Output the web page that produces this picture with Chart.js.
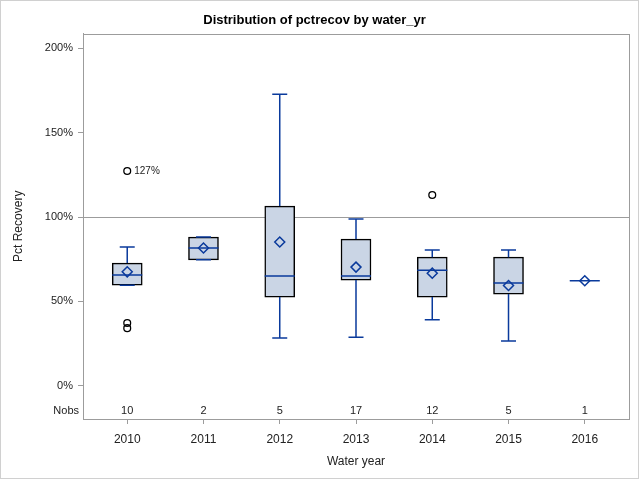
<!DOCTYPE html>
<html>
<head>
<meta charset="utf-8">
<script src="https://cdn.jsdelivr.net/npm/chart.js@4.4.1/dist/chart.umd.min.js"></script>
<style>
  html, body { margin: 0; padding: 0; background: #fff; }
  canvas { display: block; }
</style>
</head>
<body>
<canvas id="boxChart" width="640" height="480"></canvas>
<script>
const years = ['2010', '2011', '2012', '2013', '2014', '2015', '2016'];
const nobs = [10, 2, 5, 17, 12, 5, 1];
const q1Values = [59.6, 74.6, 52.5, 62.6, 52.5, 54.3, 62.2];
const q3Values = [72.7, 88.1, 106.5, 86.9, 76.2, 76.2, 62.2];
const medianValues = [65.6, 81.6, 65.0, 65.0, 68.5, 60.8, 62.2];
const meanValues = [67.5, 81.6, 85.2, 70.3, 66.7, 59.4, 62.2];
const whiskerLow = [59.6, 74.6, 28.3, 28.7, 39.0, 26.4, 62.2];
const whiskerHigh = [82.2, 88.1, 172.8, 98.8, 80.4, 80.4, 62.2];
const outlierYear = [0, 0, 0, 4];
const outlierValues = [127.3, 37.1, 34.1, 113.1];
const outlierLabels = ['127%', '', '', ''];
const yTicks = [0, 50, 100, 150, 200];
const referenceValue = 100;

const BLUE = '#0A3A9C';
const GREY = '#9C9C9C';
const FONT = '"Liberation Sans", Arial, sans-serif';

const boxDecorations = {
    id: 'boxDecorations',
    beforeDatasetsDraw(chart) {
        const { ctx, chartArea, scales: { y } } = chart;
        const py = Math.round(y.getPixelForValue(referenceValue)) + 0.5;
        ctx.save();
        ctx.strokeStyle = GREY;
        ctx.lineWidth = 1;
        ctx.beginPath();
        ctx.moveTo(chartArea.left, py);
        ctx.lineTo(chartArea.right, py);
        ctx.stroke();
        ctx.restore();
    },
    afterDatasetDraw(chart, args) {
        if (args.index !== 0) {
            return;
        }
        const { ctx, scales: { x, y } } = chart;
        ctx.save();
        ctx.strokeStyle = BLUE;
        ctx.lineWidth = 1.5;
        years.forEach((year, i) => {
            const px = x.getPixelForValue(i);
            const hi = y.getPixelForValue(whiskerHigh[i]);
            const lo = y.getPixelForValue(whiskerLow[i]);
            const top = y.getPixelForValue(q3Values[i]);
            const bottom = y.getPixelForValue(q1Values[i]);
            const med = y.getPixelForValue(medianValues[i]);
            ctx.beginPath();
            ctx.moveTo(px, hi);
            ctx.lineTo(px, top);
            ctx.moveTo(px, bottom);
            ctx.lineTo(px, lo);
            ctx.moveTo(px - 7.5, hi);
            ctx.lineTo(px + 7.5, hi);
            ctx.moveTo(px - 7.5, lo);
            ctx.lineTo(px + 7.5, lo);
            ctx.moveTo(px - 15, med);
            ctx.lineTo(px + 15, med);
            ctx.stroke();
        });
        ctx.restore();
    },
    afterDraw(chart) {
        const { ctx, chartArea, scales: { x, y } } = chart;
        ctx.save();
        ctx.strokeStyle = GREY;
        ctx.lineWidth = 1;
        ctx.strokeRect(Math.round(chartArea.left) + 0.5, Math.round(chartArea.top) + 0.5,
            Math.round(chartArea.right - chartArea.left), Math.round(chartArea.bottom - chartArea.top));

        ctx.strokeStyle = '#D0D0D0';
        ctx.strokeRect(0.5, 0.5, 638, 478);

        ctx.fillStyle = '#222';
        ctx.font = '11px ' + FONT;
        ctx.textBaseline = 'middle';
        const nobsY = chartArea.bottom - 8;
        ctx.textAlign = 'center';
        nobs.forEach((n, i) => {
            ctx.fillText(String(n), x.getPixelForValue(i), nobsY);
        });
        ctx.textAlign = 'right';
        ctx.fillText('Nobs', chartArea.left - 4, nobsY);

        ctx.font = '10px ' + FONT;
        ctx.textAlign = 'left';
        outlierValues.forEach((v, i) => {
            if (outlierLabels[i]) {
                ctx.fillText(outlierLabels[i], x.getPixelForValue(outlierYear[i]) + 7, y.getPixelForValue(v));
            }
        });
        ctx.restore();
    }
};

new Chart(document.getElementById('boxChart'), {
    type: 'bar',
    data: {
        datasets: [
            {
                type: 'bar',
                data: years.map((year, i) => ({ x: i, y: [q1Values[i], q3Values[i]] })),
                backgroundColor: '#CAD5E5',
                borderColor: '#000',
                borderWidth: ctx => (q1Values[ctx.dataIndex] === q3Values[ctx.dataIndex] ? 0 : 1.5),
                borderSkipped: false,
                barThickness: 30,
                order: 10
            },
            {
                type: 'scatter',
                data: outlierValues.map((v, i) => ({ x: outlierYear[i], y: v })),
                pointStyle: 'circle',
                radius: 3.4,
                borderColor: '#000',
                backgroundColor: 'rgba(0,0,0,0)',
                borderWidth: 1.3,
                order: 2
            },
            {
                type: 'scatter',
                data: meanValues.map((v, i) => ({ x: i, y: v })),
                pointStyle: 'rectRot',
                radius: 5,
                borderColor: BLUE,
                backgroundColor: 'rgba(0,0,0,0)',
                borderWidth: 1.5,
                order: 1
            }
        ]
    },
    options: {
        responsive: false,
        devicePixelRatio: 1,
        animation: false,
        layout: { padding: { left: 0, right: 11, top: 0, bottom: 0 } },
        scales: {
            x: {
                type: 'linear',
                min: -0.58,
                max: 6.58,
                offset: false,
                afterBuildTicks: scale => {
                    scale.ticks = years.map((year, i) => ({ value: i }));
                },
                afterFit: scale => { scale.height = 61; },
                ticks: {
                    callback: value => years[value],
                    color: '#222',
                    font: { family: FONT, size: 12 },
                    padding: 8,
                    maxRotation: 0
                },
                grid: { display: true, offset: false, drawOnChartArea: false, tickLength: 5, color: GREY },
                border: { color: GREY },
                title: {
                    display: true,
                    text: 'Water year',
                    color: '#222',
                    font: { family: FONT, size: 12 },
                    padding: { top: 0, bottom: 11 }
                }
            },
            y: {
                type: 'linear',
                min: -19.8,
                max: 208.8,
                afterBuildTicks: scale => {
                    scale.ticks = yTicks.map(v => ({ value: v }));
                },
                afterFit: scale => { scale.width = 83; },
                ticks: {
                    callback: value => value + '%',
                    color: '#222',
                    font: { family: FONT, size: 11 },
                    padding: 5
                },
                grid: { display: true, drawOnChartArea: false, tickLength: 5, color: GREY },
                border: { color: GREY },
                title: {
                    display: true,
                    text: 'Pct Recovery',
                    color: '#222',
                    font: { family: FONT, size: 12 },
                    padding: { top: 11, bottom: 0 }
                }
            }
        },
        plugins: {
            legend: { display: false },
            tooltip: { enabled: false },
            title: {
                display: true,
                text: 'Distribution of pctrecov by water_yr',
                color: '#000',
                font: { family: FONT, size: 13, weight: 'bold' },
                padding: { top: 13, bottom: 5 }
            }
        }
    },
    plugins: [boxDecorations]
});
</script>
</body>
</html>
